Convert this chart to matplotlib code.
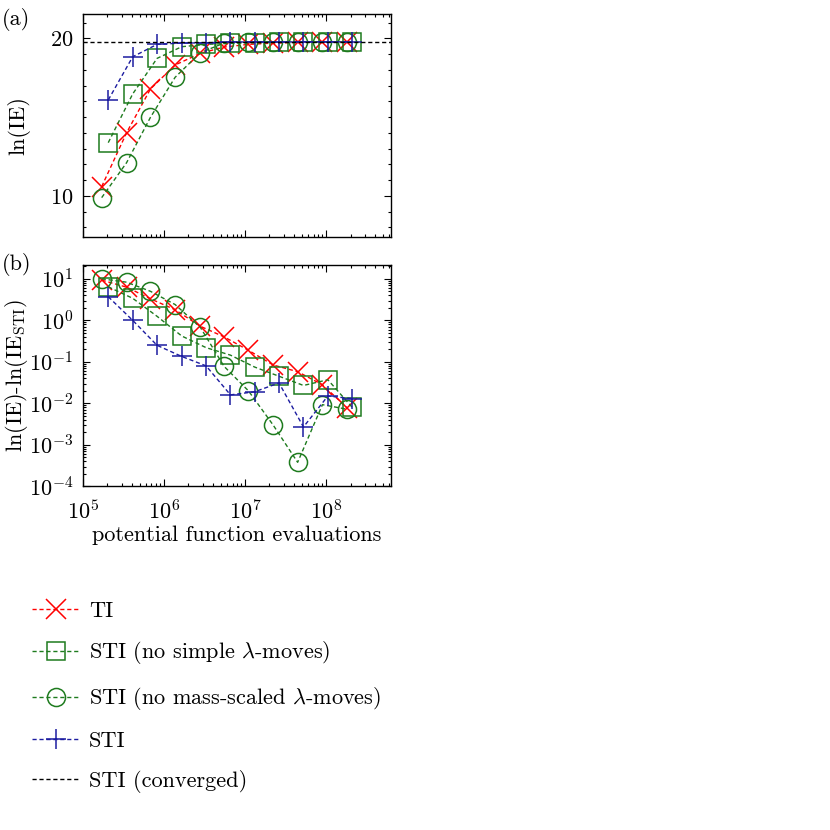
import matplotlib
matplotlib.use("Agg")
import matplotlib.pyplot as plt
from matplotlib.ticker import MultipleLocator, LogLocator, NullFormatter

plt.rcParams['font.family'] = 'serif'
plt.rcParams['font.serif'] = ['cmr10', 'DejaVu Serif']
plt.rcParams['mathtext.fontset'] = 'cm'
plt.rcParams['axes.unicode_minus'] = False
plt.rcParams['axes.formatter.use_mathtext'] = True
plt.rcParams['font.size'] = 16

# ---- data ----
x_ti = [1.7e5, 3.45e5, 6.8e5, 1.37e6, 2.8e6, 5.5e6, 1.1e7, 2.22e7, 4.45e7, 9.0e7, 1.82e8]
x_sti = [2.05e5, 4.1e5, 8.2e5, 1.65e6, 3.3e6, 6.6e6, 1.31e7, 2.62e7, 5.25e7, 1.05e8, 2.1e8]

ie_ti = [10.59, 14.01, 16.79, 18.31, 19.05, 19.45, 19.62, 19.7, 19.74, 19.76, 19.78]
ie_nosimple = [13.38, 16.47, 18.73, 19.47, 19.62, 19.68, 19.72, 19.75, 19.76, 19.75, 19.78]
ie_nomass = [9.89, 12.11, 14.99, 17.53, 19.09, 19.7, 19.77, 19.79, 19.79, 19.78, 19.78]
ie_sti = [16.09, 18.83, 19.62, 19.7, 19.72, 19.77, 19.77, 19.76, 19.79, 19.78, 19.78]
ie_converged = 19.79

d_ti = [9.3, 6.3, 3.3, 1.8, 0.72, 0.4, 0.19, 0.084, 0.058, 0.028, 0.0078]
d_nosimple = [6.4, 3.4, 1.25, 0.42, 0.22, 0.145, 0.075, 0.045, 0.027, 0.037, 0.008]
d_nomass = [10.0, 8.3, 5.0, 2.4, 0.68, 0.078, 0.02, 0.003, 0.00038, 0.0093, 0.0072]
d_sti = [3.7, 1.0, 0.25, 0.135, 0.08, 0.016, 0.019, 0.031, 0.0027, 0.015, 0.013]

labels = ["TI", r"STI (no simple $\lambda$-moves)",
          r"STI (no mass-scaled $\lambda$-moves)", "STI", "STI (converged)"]

red = '#ff0000'
green = '#1e7b1e'
blue = '#1c1ca0'

fig = plt.figure(figsize=(8.3, 8.3), dpi=100)
ax1 = fig.add_axes([0.1, 0.715, 0.371, 0.268])
ax2 = fig.add_axes([0.1, 0.414, 0.371, 0.267])

dash = (0, (3, 2))
common = dict(linestyle=dash, linewidth=1.0, markerfacecolor='none', markeredgewidth=1.1)

def draw(ax, d1, d2, d3, d4):
    h1, = ax.plot(x_ti, d1, color=red, marker='x', markersize=15, label=labels[0], **common)
    h2, = ax.plot(x_sti, d2, color=green, marker='s', markersize=13, label=labels[1], **common)
    h3, = ax.plot(x_ti, d3, color=green, marker='o', markersize=13, label=labels[2], **common)
    h4, = ax.plot(x_sti, d4, color=blue, marker='+', markersize=15, label=labels[3], **common)
    return [h1, h2, h3, h4]

draw(ax1, ie_ti, ie_nosimple, ie_nomass, ie_sti)
h5 = ax1.axhline(ie_converged, color='black', linestyle=dash, linewidth=1.0, label=labels[4])
handles = draw(ax2, d_ti, d_nosimple, d_nomass, d_sti) + [h5]

for ax in (ax1, ax2):
    ax.set_xscale('log')
    ax.set_xlim(1e5, 6.3e8)
    ax.xaxis.set_major_locator(LogLocator(base=10, numticks=10))
    ax.xaxis.set_minor_locator(LogLocator(base=10, subs=range(2, 10), numticks=20))
    ax.xaxis.set_minor_formatter(NullFormatter())
    ax.tick_params(which='both', direction='in', top=True, right=True, width=0.8)
    ax.tick_params(which='major', length=5)
    ax.tick_params(which='minor', length=2.5)
    ax.tick_params(axis='x', which='major', pad=9)
    ax.tick_params(axis='y', which='major', pad=7)
    for s in ax.spines.values():
        s.set_linewidth(1.0)

ax1.set_ylim(7.42, 21.54)
ax1.yaxis.set_major_locator(MultipleLocator(10))
ax1.yaxis.set_minor_locator(MultipleLocator(1))
ax1.tick_params(labelbottom=False)
ax1.set_ylabel("ln(IE)")
ax1.yaxis.set_label_coords(-0.172, 0.5)

ax2.set_yscale('log')
ax2.set_ylim(1e-4, 21.8)
ax2.yaxis.set_major_locator(LogLocator(base=10, numticks=10))
ax2.yaxis.set_minor_locator(LogLocator(base=10, subs=range(2, 10), numticks=20))
ax2.yaxis.set_minor_formatter(NullFormatter())
ax2.set_ylabel(r"ln(IE)-ln(IE$_{\mathrm{STI}}$)")
ax2.yaxis.set_label_coords(-0.172, 0.5)
ax2.set_xlabel("potential function evaluations", labelpad=2)

fig.text(0.002, 0.99, "(a)", va='top', ha='left')
fig.text(0.002, 0.695, "(b)", va='top', ha='left')

fig.legend(handles=handles, loc='upper left', bbox_to_anchor=(0.015, 0.3),
           frameon=False, numpoints=1, handlelength=2.1, labelspacing=0.85,
           handletextpad=0.45)

fig.savefig("out.png", dpi=100)
